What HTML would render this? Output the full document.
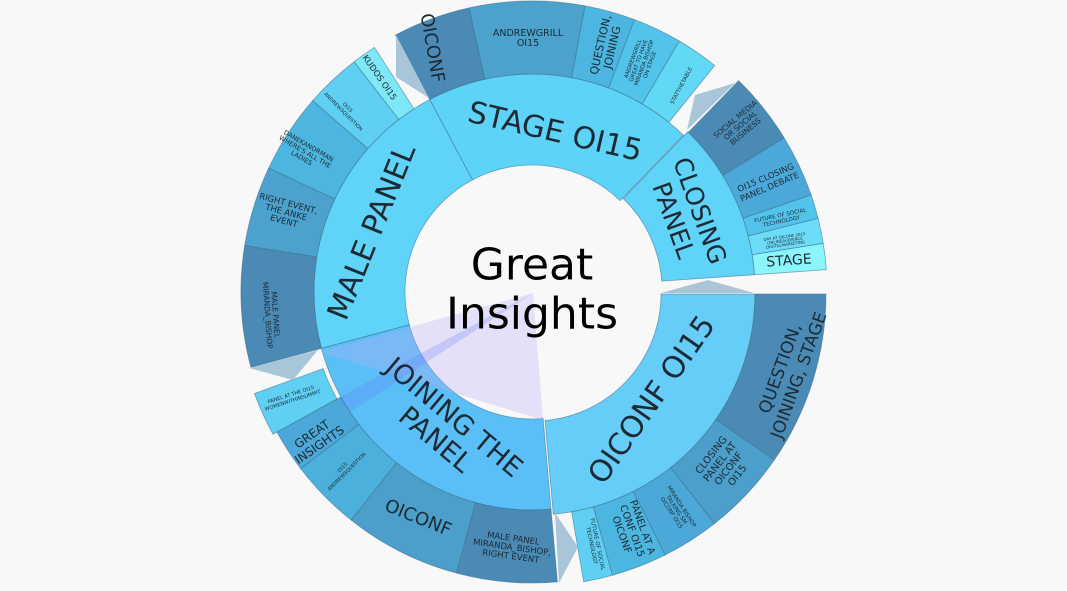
<!DOCTYPE html>
<html><head><meta charset="utf-8"><style>
html,body{margin:0;padding:0;background:#f8f8f9;}
svg{display:block;font-family:"DejaVu Sans","Liberation Sans",sans-serif;}
text{fill:#1c2a33;text-anchor:middle;dominant-baseline:central;}
</style></head><body>
<svg id="s" width="1067" height="591" viewBox="0 0 1067 591" xmlns="http://www.w3.org/2000/svg">
<rect width="1067" height="591" fill="#f8f8f9"/>
<g id="shapes"></g>
<polygon points="396,35 396,77 429,98" fill="#a9c6d8"/>
<polygon points="695,95 735,83 687,130" fill="#a9c6d8"/>
<polygon points="661,293 708,280 754,293" fill="#a9c6d8"/>
<polygon points="249,368 293,380 318,350" fill="#a9c6d8"/>
<polygon points="555,513 578,547 559,583" fill="#a9c6d8"/>
<polygon points="533,293 543,420 320,352" fill="rgba(185,175,245,0.32)"/>
<polygon points="533,293 338,398 350,412" fill="rgba(90,110,255,0.22)"/>
<g id="labels">
<text x="532" y="265" font-size="44" style="fill:#000">Great</text>
<text x="532" y="314" font-size="44" style="fill:#000">Insights</text>
<text transform="translate(555,132) rotate(13)" font-size="30">STAGE OI15</text>
<text transform="translate(372,232) rotate(-68)" font-size="30">MALE PANEL</text>
<text transform="translate(688,215) rotate(70)" font-size="25"><tspan x="0" dy="-13">CLOSING</tspan><tspan x="0" dy="28">PANEL</tspan></text>
<text transform="translate(652,400) rotate(-55)" font-size="30">OICONF OI15</text>
<text transform="translate(445,428) rotate(40)" font-size="27"><tspan x="0" dy="-14">JOINING THE</tspan><tspan x="0" dy="29">PANEL</tspan></text>
<text transform="translate(432,48) rotate(80)" font-size="18">OICONF</text>
<text transform="translate(528,38)" font-size="9.5"><tspan x="0" dy="-5">ANDREWGRILL</tspan><tspan x="0" dy="10">OI15</tspan></text>
<text transform="translate(606,46) rotate(-77)" font-size="11"><tspan x="0" dy="-6">QUESTION,</tspan><tspan x="0" dy="12">JOINING</tspan></text>
<text transform="translate(642,62) rotate(-70)" font-size="5.5"><tspan x="0" dy="-9">ANDREWGRILL</tspan><tspan x="0" dy="6">GREAT TO HAVE</tspan><tspan x="0" dy="6">MIRANDA BISHOP</tspan><tspan x="0" dy="6">ON STAGE</tspan></text>
<text transform="translate(682,86) rotate(-62)" font-size="5.5">STATTHETABLE</text>
<text transform="translate(379,78) rotate(55)" font-size="8.5">KUDOS OI15</text>
<text transform="translate(345,110) rotate(45)" font-size="5"><tspan x="0" dy="-3">OI15</tspan><tspan x="0" dy="6">ANDREWSQUESTION</tspan></text>
<text transform="translate(305,152) rotate(30)" font-size="6.5"><tspan x="0" dy="-7">DANEKANORMAN</tspan><tspan x="0" dy="7">WHERE'S ALL THE</tspan><tspan x="0" dy="7">LADIES</tspan></text>
<text transform="translate(286,213) rotate(15)" font-size="8.5"><tspan x="0" dy="-9">RIGHT EVENT,</tspan><tspan x="0" dy="9">THE ANKE</tspan><tspan x="0" dy="9">EVENT</tspan></text>
<text transform="translate(272,315) rotate(86)" font-size="7.5"><tspan x="0" dy="-4">MALE PANEL</tspan><tspan x="0" dy="8">MIRANDA_BISHOP</tspan></text>
<text transform="translate(740,125) rotate(-40)" font-size="7.5"><tspan x="0" dy="-8">SOCIAL MEDIA</tspan><tspan x="0" dy="8">OR SOCIAL</tspan><tspan x="0" dy="8">BUSINESS</tspan></text>
<text transform="translate(768,183) rotate(-23)" font-size="8.5"><tspan x="0" dy="-5">OI15 CLOSING</tspan><tspan x="0" dy="10">PANEL DEBATE</tspan></text>
<text transform="translate(781,219) rotate(-12)" font-size="5.5"><tspan x="0" dy="-3">FUTURE OF SOCIAL</tspan><tspan x="0" dy="6">TECHNOLOGY</tspan></text>
<text transform="translate(785,240) rotate(-8)" font-size="4"><tspan x="0" dy="-4">DAY AT OICONF 2015</tspan><tspan x="0" dy="4">ONLINEAUDIENCE</tspan><tspan x="0" dy="4">DIGITALMARKETING</tspan></text>
<text transform="translate(789,261) rotate(-4)" font-size="14">STAGE</text>
<text transform="translate(790,372) rotate(-70)" font-size="17"><tspan x="0" dy="-10">QUESTION,</tspan><tspan x="0" dy="20">JOINING, STAGE</tspan></text>
<text transform="translate(724,465) rotate(-52)" font-size="10"><tspan x="0" dy="-16">CLOSING</tspan><tspan x="0" dy="11">PANEL AT</tspan><tspan x="0" dy="11">OICONF</tspan><tspan x="0" dy="11">OI15</tspan></text>
<text transform="translate(676,510) rotate(57)" font-size="5.5"><tspan x="0" dy="-6">MIRANDA BISHOP</tspan><tspan x="0" dy="6">TALKING SM</tspan><tspan x="0" dy="6">OICONF OI15</tspan></text>
<text transform="translate(632,531) rotate(70)" font-size="10"><tspan x="0" dy="-11">PANEL AT A</tspan><tspan x="0" dy="11">CONF OI15</tspan><tspan x="0" dy="11">OICONF</tspan></text>
<text transform="translate(594,545) rotate(78)" font-size="5.5"><tspan x="0" dy="-3">FUTURE OF SOCIAL</tspan><tspan x="0" dy="6">TECHNOLOGY</tspan></text>
<text transform="translate(512,548) rotate(8)" font-size="8.5"><tspan x="0" dy="-9">MALE PANEL</tspan><tspan x="0" dy="9">MIRANDA_BISHOP,</tspan><tspan x="0" dy="9">RIGHT EVENT</tspan></text>
<text transform="translate(418,518) rotate(22)" font-size="18">OICONF</text>
<text transform="translate(345,470) rotate(-45)" font-size="5"><tspan x="0" dy="-3">OI15</tspan><tspan x="0" dy="6">ANDREWSQUESTION</tspan></text>
<text transform="translate(316,440) rotate(-35)" font-size="12"><tspan x="0" dy="-7">GREAT</tspan><tspan x="0" dy="13">INSIGHTS</tspan></text>
<text transform="translate(292,398) rotate(-18)" font-size="5"><tspan x="0" dy="-3">PANEL AT THE OI15</tspan><tspan x="0" dy="6">WOMENWITHINSUMMIT</tspan></text>
</g>
</svg>
<script>
var cx=532,cy=292;
function P(r,b){b=b*Math.PI/180;return (cx+r*Math.sin(b)).toFixed(1)+","+(cy-r*Math.cos(b)).toFixed(1);}
function arc(r0,r1,a0,a1){var l=(a1-a0)>180?1:0;
return "M"+P(r1,a0)+"A"+r1+","+r1+" 0 "+l+" 1 "+P(r1,a1)+"L"+P(r0,a1)+"A"+r0+","+r0+" 0 "+l+" 0 "+P(r0,a0)+"Z";}
var segs=[
[127,218,-28,44,"#5dd3f8"],
[127,218,-105,-28,"#5fd3f8"],
[127,220,44,86,"#5fd3f8",3,-2],
[127,221,90,175,"#66cdf9",2,2],
[127,218,175,255,"#5bbff7"],
[218,291,-28,-12.5,"#4a8ab5"],
[218,291,-12.5,10.5,"#4ca2cc"],
[218,291,10.5,20.6,"#4cb6e0"],
[218,291,20.6,30.4,"#52c4ec"],
[218,291,30.4,38.9,"#62d8f7"],
[218,291,-37.7,-32.8,"#7fe8f8"],
[218,291,-48.9,-37.7,"#5fd0f4"],
[218,291,-64.8,-48.9,"#4cb6e0"],
[218,291,-80.8,-64.8,"#4ca2cc"],
[218,291,-105,-80.8,"#4a8ab5"],
[218,291,241.2,250,"#5fd0f4",-4,2],
[218,291,232.6,241.2,"#4ca8d8"],
[218,291,218.4,232.6,"#4cb0dc"],
[218,291,195,218.4,"#4c9ecb"],
[218,291,175,195,"#4a8ab5"],
[221,292,164.4,170.2,"#5fd0f4",2,2],
[221,292,153.3,164.4,"#4cb6e0",2,2],
[221,292,141.8,153.3,"#4ca8d8",2,2],
[221,292,124.6,141.8,"#4c9ecb",2,2],
[221,292,90,124.6,"#4a8ab5",2,2],
[220,292,44.2,58.6,"#4a8ab5",3,-2],
[220,292,58.6,71,"#4ca8d8",3,-2],
[220,292,71,75.8,"#52c4ec",3,-2],
[220,292,75.8,80.8,"#6ddcf8",3,-2],
[220,292,80.8,86,"#8cf4fb",3,-2]
];
var g=document.getElementById("shapes"),h="";
segs.forEach(function(s){var t=(s[5]||s[6])?' transform="translate('+(s[5]||0)+','+(s[6]||0)+')"':'';
h+='<path d="'+arc(s[0],s[1],s[2],s[3])+'" fill="'+s[4]+'" stroke="#3b6f8a" stroke-opacity="0.6" stroke-width="0.8"'+t+'/>';});
g.innerHTML=h;
</script>
</body></html>
